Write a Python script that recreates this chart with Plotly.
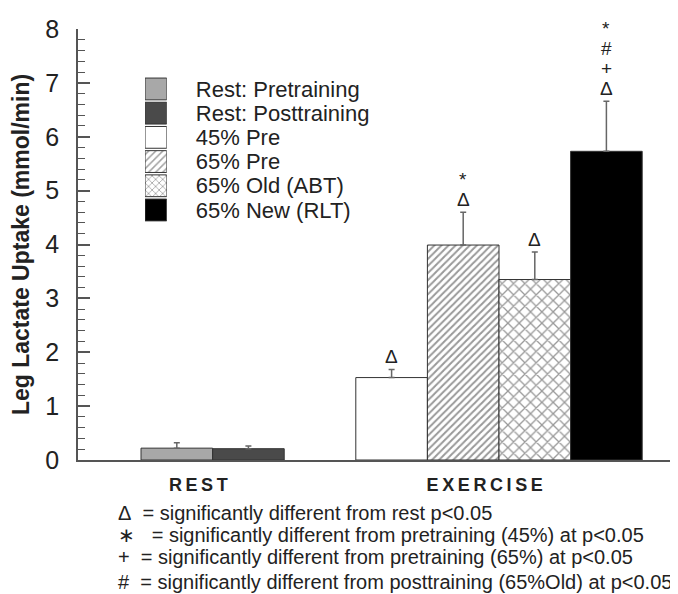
import plotly.graph_objects as go

# ---- data ----
series = ["Rest: Pretraining", "Rest: Posttraining", "45% Pre", "65% Pre",
          "65% Old (ABT)", "65% New (RLT)"]
groups = ["REST", "REST", "EXERCISE", "EXERCISE", "EXERCISE", "EXERCISE"]
values = [0.22, 0.21, 1.53, 3.99, 3.35, 5.73]
errors = [0.10, 0.05, 0.15, 0.61, 0.51, 0.93]
signif = [[], [], ["Δ"], ["Δ", "*"], ["Δ"], ["Δ", "+", "#", "*"]]
group_labels = ["REST", "EXERCISE"]
y_ticks = [0, 1, 2, 3, 4, 5, 6, 7, 8]
footnotes = [
    "Δ\u00a0 = significantly different from rest p<0.05",
    "∗\u00a0\u00a0 = significantly different from pretraining (45%) at p<0.05",
    "+\u00a0 = significantly different from pretraining (65%) at p<0.05",
    "#\u00a0 = significantly different from posttraining (65%Old) at p<0.05",
]

# ---- styles ----
fills = ["#a8a8a8", "#4a4a4a", "white", "white", "white", "black"]
patterns = ["", "", "", "/", "x", ""]
pat_size = [8, 8, 8, 5, 8, 8]
pat_solid = [0.3, 0.3, 0.3, 0.4, 0.3, 0.3]
FONT = "Liberation Sans, Arial, Helvetica, sans-serif"
AX = "#555555"

# slot positions: one empty slot between groups
xs = []
pos = 0
prev = None
for g in groups:
    if prev is not None and g != prev:
        pos += 1
    pos += 1
    xs.append(pos)
    prev = g
centers = []
for gl in group_labels:
    p = [x for x, g in zip(xs, groups) if g == gl]
    centers.append(sum(p) / len(p) - 0.2)

fig = go.Figure()
for i, name in enumerate(series):
    fig.add_trace(go.Bar(
        x=[xs[i]], y=[values[i]], name=name, width=1, showlegend=False,
        marker=dict(color=fills[i], line=dict(color="#333333", width=1),
                    pattern=dict(shape=patterns[i], size=pat_size[i], solidity=pat_solid[i],
                                 fgcolor="#333333", bgcolor=fills[i])),
        error_y=dict(type="data", array=[errors[i]], arrayminus=[0], symmetric=False,
                     color="#666666", thickness=1.5, width=3),
    ))

# legend drawn as a small horizontal bar chart
fig.add_trace(go.Bar(
    y=series, x=[1] * len(series), orientation="h", xaxis="x2", yaxis="y2",
    width=0.9, showlegend=False, hoverinfo="skip",
    marker=dict(color=fills, line=dict(color="#333333", width=1),
                pattern=dict(shape=patterns, size=5, solidity=0.3,
                             fgcolor="#222222", bgcolor=fills)),
))

for i in range(len(series)):
    for j, sym in enumerate(signif[i]):
        fig.add_annotation(x=xs[i], y=values[i] + errors[i], text=sym, showarrow=False,
                           yshift=13 + 20 * j, yanchor="middle",
                           font=dict(size=19, color="#222222", family=FONT))

foot_px = [513, 535, 557, 582]
for k, t in enumerate(footnotes):
    fig.add_annotation(xref="paper", yref="paper", x=0, y=0, xanchor="left", yanchor="middle",
                       xshift=38, yshift=-(foot_px[k] - 460), text=t, showarrow=False,
                       font=dict(size=20, color="#222222", family=FONT))

sp = "\u2009"
fig.update_layout(
    width=670, height=586, autosize=False,
    margin=dict(l=70, r=0, t=21, b=134),
    paper_bgcolor="white", plot_bgcolor="white",
    barmode="overlay",
    font=dict(family=FONT, color="#222222"),
    xaxis=dict(range=[-0.38, 8.0], showline=True, linecolor=AX, linewidth=1.5,
               tickvals=centers,
               ticktext=["<b>" + sp.join(list(g)) + "</b>" for g in group_labels],
               ticks="", tickfont=dict(size=18, color="#222222"), ticklabelstandoff=8,
               showgrid=False, zeroline=False, fixedrange=True),
    yaxis=dict(range=[0, 8], tickvals=y_ticks, showline=True, linecolor=AX, linewidth=1.5,
               ticks="inside", ticklen=12, tickwidth=1.5, tickcolor=AX,
               minor=dict(ticks="inside", ticklen=7, dtick=0.2, tickcolor=AX, tickwidth=1),
               tickfont=dict(size=25, color="#222222"), ticklabelstandoff=12,
               showgrid=False, zeroline=False,
               title=dict(text="<b>Leg Lactate Uptake (mmol/min)</b>",
                          font=dict(size=23, color="#222222"), standoff=10)),
    xaxis2=dict(domain=[0.1117, 0.148], anchor="y2", range=[0, 1], visible=False,
                fixedrange=True),
    yaxis2=dict(domain=[0.552, 0.889], anchor="x2", side="right", autorange="reversed",
                tickmode="array", tickvals=series, ticktext=series,
                ticks="", showline=False, showgrid=False, zeroline=False,
                tickfont=dict(size=22, color="#222222"), ticklabelstandoff=28),
)

fig.write_html("out.html")
